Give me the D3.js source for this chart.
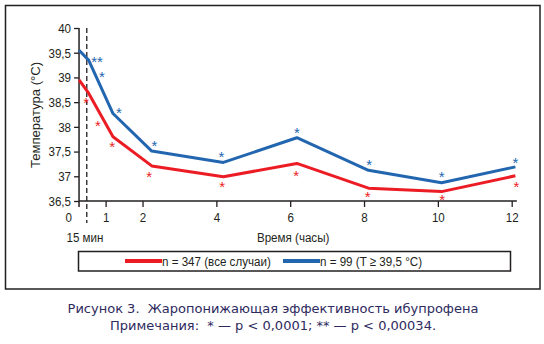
<!DOCTYPE html>
<html><head><meta charset="utf-8">
<script src="https://cdn.jsdelivr.net/npm/d3@7"></script>
<style>
html,body{margin:0;padding:0;background:#fff;}
svg{display:block;}
.ax text{font-family:"Liberation Sans",Arial,sans-serif;font-size:13.5px;fill:#231f20;}
</style>
</head><body>
<svg id="c" width="544" height="344"></svg>
<script>
// ---- data ----
const times = [0.28, 0.54, 1.2, 2.25, 4.19, 6.18, 8.12, 10.1, 12.1];
const redValues  = [38.95, 38.68, 37.80, 37.21, 36.99, 37.26, 36.76, 36.69, 37.01];
const blueValues = [39.55, 39.35, 38.27, 37.51, 37.28, 37.78, 37.12, 36.87, 37.19];
const xTicks = [1, 2, 4, 6, 8, 10, 12];
const yTicks = [36.5, 37, 37.5, 38, 38.5, 39, 39.5, 40];
const blueMarkT = [0.77, 0.90, 1.36, 2.32, 4.14, 6.18, 8.14, 10.1, 12.1];
const blueMarkV = [39.37, 39.07, 38.34, 37.67, 37.46, 37.94, 37.30, 37.05, 37.34];
const blueMarkL = ["**", "*", "*", "*", "*", "*", "*", "*", "*"];
const redMarkT = [0.47, 0.79, 1.18, 2.18, 4.16, 6.16, 8.10, 10.12, 12.13];
const redMarkV = [38.54, 38.09, 37.65, 37.06, 36.84, 37.07, 36.64, 36.59, 36.84];
const redMarkL = ["*", "*", "*", "*", "*", "*", "*", "*", "*"];
const seriesNames = ["n = 347 (все случаи)", "n = 99 (T \u2265 39,5 °C)"];
const xTitle = "Время (часы)";
const yTitle = "Температура (°C)";
const startLabel = "15 мин";
const caption1 = "Рисунок 3.  Жаропонижающая эффективность ибупрофена";
const caption2 = "Примечания:  * — p < 0,0001; ** — p < 0,00034.";

const RED = "#ec1c24", BLUE = "#2366b0", INK = "#231f20";
const FONT = "'Liberation Sans',Arial,sans-serif";
const SQ = 0.86;
const svg = d3.select("#c");
const x = d3.scaleLinear().domain([0, 12]).range([68.7, 511.7]);
const y = d3.scaleLinear().domain([36.5, 40]).range([201, 28]);
const axisX0 = x(times[0]);

function condense(sel, origin) {
  sel.style("transform-box", "fill-box").style("transform-origin", origin)
     .style("transform", `scaleX(${SQ})`);
  return sel;
}

// outer frame
svg.append("rect").attr("x", 5.5).attr("y", 5.5).attr("width", 534.5).attr("height", 283.5)
  .attr("fill", "none").attr("stroke", INK).attr("stroke-width", 1.5);

// y axis
const gy = svg.append("g").attr("class", "ax").attr("transform", `translate(${axisX0},0)`)
  .call(d3.axisLeft(y).tickValues(yTicks).tickSize(5).tickPadding(3)
    .tickFormat(d => d3.format(".1~f")(d).replace(".", ",")));
gy.select(".domain").remove();
gy.selectAll("line").attr("stroke", INK).attr("stroke-width", 1.3);
condense(gy.selectAll("text"), "right center");
svg.append("line").attr("x1", axisX0).attr("x2", axisX0).attr("y1", y(40)).attr("y2", y(36.5) + 6)
  .attr("stroke", INK).attr("stroke-width", 1.5);

// x axis
const gx = svg.append("g").attr("class", "ax").attr("transform", `translate(0,${y(36.5)})`)
  .call(d3.axisBottom(x).tickValues(xTicks).tickSize(6).tickPadding(5).tickFormat(d3.format("d")));
gx.select(".domain").remove();
gx.selectAll("line").attr("stroke", INK).attr("stroke-width", 1.3);
condense(gx.selectAll("text"), "center");
svg.append("line").attr("x1", axisX0).attr("x2", x(12.14)).attr("y1", y(36.5)).attr("y2", y(36.5))
  .attr("stroke", INK).attr("stroke-width", 1.5);

const txt = (xx, yy, s, anchor) => svg.append("text").attr("x", xx).attr("y", yy)
  .attr("text-anchor", anchor || "middle")
  .style("font-family", FONT).style("font-size", "13.5px").attr("fill", INK).text(s);
condense(txt(x(0), y(36.5) + 11, "0").attr("dy", "0.71em"), "center");

// dashed 15-min line
svg.append("line").attr("x1", x(0.49)).attr("x2", x(0.49)).attr("y1", y(40)).attr("y2", 223)
  .attr("stroke", INK).attr("stroke-width", 1.3).attr("stroke-dasharray", "5,3");

condense(txt(x(0.44), 242, startLabel), "center");
condense(txt(x(6.08), 242, xTitle), "center");
svg.append("text").attr("transform", "translate(40,115) rotate(-90)").attr("text-anchor", "middle")
  .style("font-family", FONT).style("font-size", "13.5px").attr("fill", INK)
  .attr("textLength", 106).attr("lengthAdjust", "spacingAndGlyphs").text(yTitle);

// lines
const line = d3.line().x((d, i) => x(times[i])).y(d => y(d));
svg.append("path").datum(redValues).attr("d", line).attr("fill", "none")
  .attr("stroke", RED).attr("stroke-width", 3).attr("stroke-linejoin", "round");
svg.append("path").datum(blueValues).attr("d", line).attr("fill", "none")
  .attr("stroke", BLUE).attr("stroke-width", 3).attr("stroke-linejoin", "round");

// significance marks
function marks(T, V, L, col) {
  svg.append("g").selectAll("text").data(T).join("text")
    .attr("x", (d) => x(d)).attr("y", (d, i) => y(V[i])).attr("dy", "0.55em")
    .attr("text-anchor", "middle").style("font-family", FONT)
    .style("font-size", "15px").attr("fill", col).text((d, i) => L[i]);
}
marks(blueMarkT, blueMarkV, blueMarkL, BLUE);
marks(redMarkT, redMarkV, redMarkL, RED);

// legend
svg.append("rect").attr("x", 78.5).attr("y", 251.5).attr("width", 432).attr("height", 19.5)
  .attr("fill", "none").attr("stroke", INK).attr("stroke-width", 1.5);
const legCols = [RED, BLUE];
const legX = [125, 283];
legCols.forEach((c, i) => {
  svg.append("line").attr("x1", legX[i]).attr("x2", legX[i] + 37).attr("y1", 261).attr("y2", 261)
    .attr("stroke", c).attr("stroke-width", 4);
  condense(txt(legX[i] + 37, 266, seriesNames[i], "start"), "left center");
});

// caption
const cap = (yy, s) => svg.append("text").attr("x", 273).attr("y", yy).attr("text-anchor", "middle")
  .attr("xml:space", "preserve").style("white-space", "pre")
  .style("font-family", "'DejaVu Sans',sans-serif").style("font-size", "13px")
  .attr("fill", "#2e2a5e").text(s);
cap(313, caption1);
cap(330, caption2);
</script>
</body></html>
